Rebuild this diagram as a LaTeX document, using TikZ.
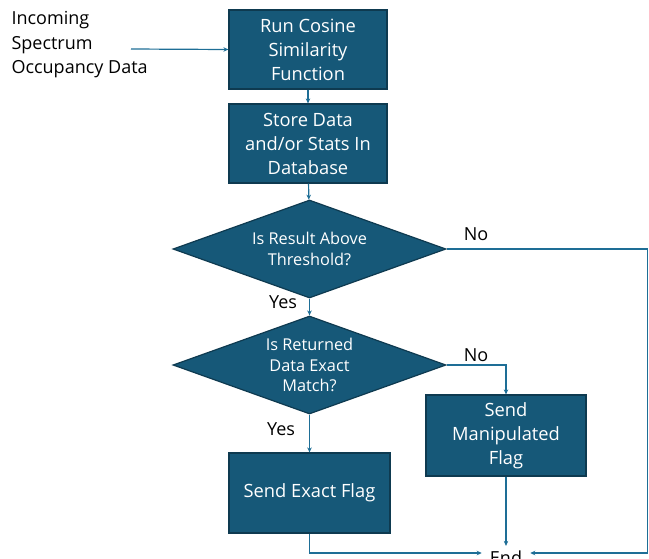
\documentclass[tikz,border=0pt]{standalone}
\usepackage{fontspec}
\setmainfont{Open Sans}
\usetikzlibrary{shapes.geometric,arrows.meta}

\definecolor{boxfill}{RGB}{22,88,120}
\definecolor{boxline}{RGB}{14,58,80}
\definecolor{flowline}{RGB}{30,110,150}

\tikzset{
  process/.style={draw=boxline,line width=1.2pt,fill=boxfill,text=white,
    align=center,inner sep=0pt,font=\fontsize{18.3}{24}\selectfont},
  decision/.style={diamond,draw=boxline,line width=1.2pt,fill=boxfill,text=white,
    align=center,inner sep=0pt,aspect=2.8,minimum width=273pt,minimum height=98pt,
    font=\fontsize{16.3}{20.5}\selectfont},
  flow/.style={draw=flowline,line width=1.2pt,-{Stealth[length=5pt,width=4.5pt]}},
  plain/.style={font=\fontsize{18}{24.5}\selectfont},
}

\begin{document}
\begin{tikzpicture}[x=1pt,y=-1pt]
\useasboundingbox (0,0) rectangle (649,558);

\node[plain,align=left,anchor=west] (input) at (8,45)
  {Incoming\\Spectrum\\Occupancy Data};
\coordinate (infeed) at (131,49);

\node[process,minimum width=158pt,minimum height=79pt] (run) at (308,49.5)
  {Run Cosine\\Similarity\\Function};
\node[process,minimum width=158pt,minimum height=79pt] (store) at (308,143.5)
  {Store Data\\and/or Stats In\\Database};
\node[decision] (above) at (309.5,249) {Is Result Above\\Threshold?};
\node[decision] (exact) at (309.5,365) {Is Returned\\Data Exact\\Match?};
\node[process,minimum width=160pt,minimum height=81pt] (manip) at (506,435.5)
  {Send\\Manipulated\\Flag};
\node[process,minimum width=161pt,minimum height=80pt] (sendexact) at (309.5,493)
  {Send Exact Flag};
\node[plain,inner xsep=8pt,inner ysep=5pt] (endn) at (506,558) {End};

\coordinate (rightedge) at (647.5,553);

\draw[flow] (infeed) -- (run.west);
\draw[flow] (run) -- (store);
\draw[flow] (store) -- (above);
\draw[flow] (above) -- (exact);
\node[plain] (yes1) at (283,302) {Yes};
\draw[flow] (exact) -- (sendexact);
\node[plain] (yes2) at (281,429) {Yes};
\draw[flow] (exact.east) -| (manip.north);
\node[plain] (no2) at (476,355) {No};
\draw[flow] (above.east) -| (rightedge) -- (endn.east |- rightedge);
\node[plain] (no1) at (476,234) {No};
\draw[flow] (manip.south) -- (endn.north);
\draw[flow] (sendexact.south) |- (endn.west |- rightedge);
\end{tikzpicture}
\end{document}
